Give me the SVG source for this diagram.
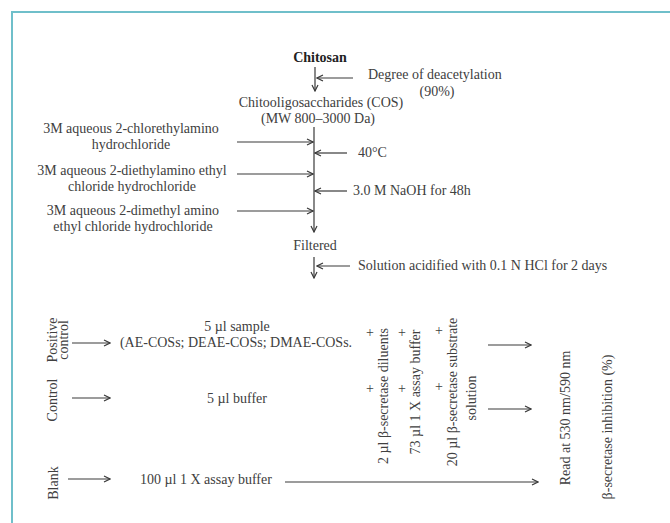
<svg xmlns="http://www.w3.org/2000/svg" width="670" height="523" viewBox="0 0 670 523">
<defs>
<marker id="ah" markerWidth="8" markerHeight="8" refX="7" refY="4" orient="auto" markerUnits="userSpaceOnUse">
<path d="M1,1 L7,4 L1,7" fill="none" stroke="#3a3a3a" stroke-width="1.2"/>
</marker>
<style>
text{font-family:"Liberation Serif","Times New Roman",serif;font-size:14px;fill:#404040}
.c{text-anchor:middle}
.b{font-weight:bold;fill:#222}
.ar{stroke:#3a3a3a;stroke-width:1.2;fill:none;marker-end:url(#ah)}
</style>
</defs>
<rect width="670" height="523" fill="#fff"/>
<path d="M12,523 V12 H670" fill="none" stroke="#6fbfca" stroke-width="2"/>

<g id="chitosan"><text class="c b" x="320" y="62">Chitosan</text></g>
<g id="deacetylation"><text x="368" y="79">Degree of deacetylation</text><text class="c" x="437" y="96">(90%)</text></g>
<g id="cos"><text class="c" x="321" y="107">Chitooligosaccharides (COS)</text><text class="c" x="318" y="123">(MW 800–3000 Da)</text></g>
<g id="reagent1"><text class="c" x="131" y="133">3M aqueous 2-chlorethylamino</text><text class="c" x="131" y="149">hydrochloride</text></g>
<g id="reagent2"><text class="c" x="132" y="175">3M aqueous 2-diethylamino ethyl</text><text class="c" x="132" y="191">chloride hydrochloride</text></g>
<g id="reagent3"><text class="c" x="133" y="215">3M aqueous 2-dimethyl amino</text><text class="c" x="133" y="231">ethyl chloride hydrochloride</text></g>
<g id="temp"><text x="358" y="157">40°C</text></g>
<g id="naoh"><text x="353" y="195">3.0 M NaOH for 48h</text></g>
<g id="filtered"><text class="c" x="315" y="250">Filtered</text></g>
<g id="acid"><text x="358" y="270">Solution acidified with 0.1 N HCl  for 2 days</text></g>

<g id="positive-control"><text class="c" transform="translate(57,340) rotate(-90)">Positive</text><text class="c" transform="translate(68,340) rotate(-90)">control</text></g>
<g id="control"><text class="c" transform="translate(57,400) rotate(-90)">Control</text></g>
<g id="blank"><text class="c" transform="translate(58,483) rotate(-90)">Blank</text></g>
<g id="sample"><text class="c" x="237" y="331">5 µl sample</text><text class="c" x="236" y="347">(AE-COSs; DEAE-COSs; DMAE-COSs.</text></g>
<g id="buffer5"><text class="c" x="237" y="403">5 µl buffer</text></g>
<g id="buffer100"><text x="140" y="484">100 µl 1 X assay buffer</text></g>
<g id="plus">
<text class="c" x="370" y="337">+</text><text class="c" x="402" y="337">+</text><text class="c" x="439" y="335">+</text>
<text class="c" x="370" y="393">+</text><text class="c" x="402" y="393">+</text><text class="c" x="439" y="391">+</text>
</g>
<g id="diluents"><text class="c" transform="translate(388,396) rotate(-90)">2 µl β-secretase diluents</text></g>
<g id="assay-buffer"><text class="c" transform="translate(420,392) rotate(-90)">73 µl 1 X assay buffer</text></g>
<g id="substrate"><text class="c" transform="translate(457,392) rotate(-90)">20 µl β-secretase substrate</text><text class="c" transform="translate(476,398) rotate(-90)">solution</text></g>
<g id="read"><text class="c" transform="translate(570,418) rotate(-90)">Read at 530 nm/590 nm</text></g>
<g id="inhibition"><text class="c" transform="translate(612,427) rotate(-90)">β-secretase inhibition (%)</text></g>

<g id="connectors">
<line class="ar" x1="315" y1="67" x2="315" y2="91"/>
<line class="ar" x1="353" y1="78" x2="317" y2="78"/>
<line class="ar" x1="314" y1="127" x2="314" y2="232"/>
<line class="ar" x1="237" y1="142" x2="313" y2="142"/>
<line class="ar" x1="237" y1="174" x2="313" y2="174"/>
<line class="ar" x1="237" y1="211" x2="313" y2="211"/>
<line class="ar" x1="347" y1="153" x2="315" y2="153"/>
<line class="ar" x1="347" y1="191" x2="315" y2="191"/>
<line class="ar" x1="314" y1="257" x2="314" y2="278"/>
<line class="ar" x1="350" y1="266" x2="317" y2="266"/>
<line class="ar" x1="72" y1="343" x2="110" y2="343"/>
<line class="ar" x1="72" y1="398" x2="110" y2="398"/>
<line class="ar" x1="68" y1="479" x2="110" y2="479"/>
<line class="ar" x1="285" y1="482" x2="538" y2="482"/>
<line class="ar" x1="488" y1="345" x2="531" y2="345"/>
<line class="ar" x1="488" y1="409" x2="531" y2="409"/>
</g>
</svg>
